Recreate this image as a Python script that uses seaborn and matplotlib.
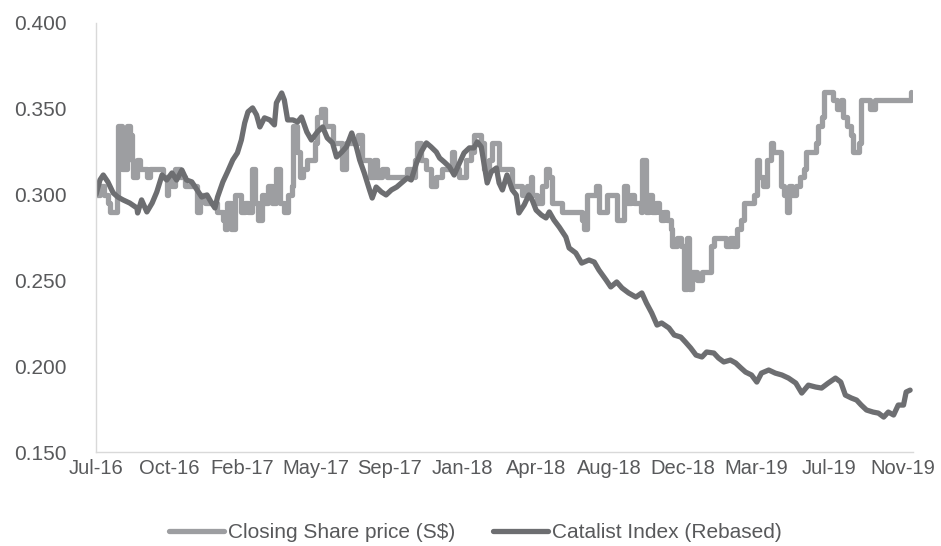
import matplotlib.pyplot as plt
import matplotlib.ticker as mticker
import numpy as np
import pandas as pd
import seaborn as sns

START = pd.Timestamp("2016-07-01")

# Closing share price (S$), days counted from START
share_days = [
    0, 6, 12, 18, 21, 29, 32, 33, 38, 39,
    44, 47, 51, 54, 56, 62, 66, 71, 77, 82,
    86, 94, 101, 107, 109, 115, 119, 127, 134, 142,
    146, 153, 157, 165, 175, 183, 187, 192, 195, 199,
    205, 210, 214, 220, 225, 230, 236, 240, 245, 251,
    255, 260, 266, 273, 278, 285, 290, 296, 298, 304,
    308, 313, 319, 326, 331, 335, 341, 346, 353, 358,
    368, 373, 379, 388, 396, 402, 409, 414, 421, 426,
    433, 441, 455, 464, 470, 477, 482, 486, 492, 500,
    507, 515, 523, 530, 538, 542, 550, 554, 560, 568,
    572, 577, 583, 587, 595, 600, 607, 610, 622, 630,
    637, 645, 652, 658, 660, 668, 675, 681, 686, 690,
    698, 705, 720, 728, 735, 738, 743, 751, 757, 761,
    769, 773, 784, 788, 794, 799, 803, 809, 814, 822,
    825, 826, 832, 837, 841, 847, 852, 855, 859, 864,
    870, 871, 879, 885, 890, 894, 897, 902, 909, 917,
    924, 930, 935, 942, 950, 954, 959, 964, 970, 976,
    980, 988, 995, 1000, 1003, 1010, 1015, 1021, 1025, 1033,
    1036, 1041, 1045, 1048, 1053, 1060, 1066, 1071, 1075, 1083,
    1089, 1093, 1098, 1101, 1113, 1116, 1121, 1127, 1131, 1136,
    1142, 1145, 1151, 1154, 1157, 1164, 1172, 1179, 1187, 1229,
    1234,
]
share_price = [
    0.300, 0.305, 0.300, 0.295, 0.290, 0.290, 0.300, 0.340, 0.340, 0.315,
    0.315, 0.340, 0.335, 0.320, 0.310, 0.320, 0.315, 0.315, 0.310, 0.315,
    0.315, 0.315, 0.310, 0.300, 0.310, 0.305, 0.315, 0.310, 0.305, 0.305,
    0.305, 0.290, 0.300, 0.295, 0.295, 0.290, 0.290, 0.285, 0.280, 0.295,
    0.280, 0.300, 0.300, 0.290, 0.295, 0.290, 0.315, 0.295, 0.285, 0.300,
    0.295, 0.305, 0.295, 0.315, 0.295, 0.290, 0.300, 0.305, 0.340, 0.325,
    0.310, 0.315, 0.320, 0.320, 0.330, 0.345, 0.350, 0.340, 0.340, 0.330,
    0.330, 0.315, 0.330, 0.330, 0.335, 0.320, 0.320, 0.310, 0.320, 0.310,
    0.315, 0.310, 0.310, 0.310, 0.315, 0.310, 0.320, 0.330, 0.320, 0.315,
    0.305, 0.310, 0.315, 0.315, 0.325, 0.315, 0.310, 0.310, 0.320, 0.325,
    0.335, 0.335, 0.330, 0.315, 0.320, 0.330, 0.330, 0.315, 0.315, 0.305,
    0.305, 0.300, 0.305, 0.310, 0.300, 0.295, 0.305, 0.315, 0.310, 0.295,
    0.295, 0.290, 0.290, 0.290, 0.285, 0.280, 0.300, 0.300, 0.305, 0.290,
    0.290, 0.300, 0.300, 0.285, 0.285, 0.305, 0.295, 0.300, 0.295, 0.295,
    0.290, 0.320, 0.290, 0.300, 0.290, 0.295, 0.290, 0.285, 0.290, 0.285,
    0.280, 0.270, 0.275, 0.270, 0.245, 0.275, 0.245, 0.255, 0.250, 0.255,
    0.255, 0.270, 0.275, 0.275, 0.275, 0.270, 0.275, 0.270, 0.280, 0.285,
    0.295, 0.295, 0.300, 0.320, 0.310, 0.305, 0.320, 0.330, 0.325, 0.325,
    0.305, 0.300, 0.290, 0.305, 0.300, 0.305, 0.310, 0.315, 0.325, 0.325,
    0.330, 0.340, 0.345, 0.360, 0.360, 0.355, 0.350, 0.355, 0.345, 0.340,
    0.335, 0.325, 0.325, 0.330, 0.355, 0.355, 0.350, 0.355, 0.355, 0.355,
    0.360,
]

# Catalist Index (rebased)
cat_days = [
    0, 6, 11, 18, 26, 33, 41, 51, 62, 63,
    69, 77, 85, 92, 100, 107, 115, 122, 130, 137,
    145, 153, 160, 168, 175, 180, 184, 192, 199, 207,
    214, 220, 225, 230, 237, 243, 248, 255, 263, 270,
    273, 281, 285, 290, 298, 305, 311, 319, 326, 335,
    343, 350, 358, 364, 372, 379, 387, 394, 399, 406,
    414, 418, 424, 432, 439, 447, 455, 464, 471, 477,
    485, 492, 500, 507, 515, 520, 527, 535, 542, 550,
    557, 565, 572, 577, 583, 587, 592, 598, 606, 610,
    615, 622, 630, 636, 640, 648, 655, 660, 666, 674,
    681, 686, 693, 701, 711, 716, 726, 735, 746, 754,
    761, 772, 779, 788, 796, 806, 817, 826, 833, 841,
    849, 856, 867, 875, 885, 892, 900, 908, 917, 924,
    935, 942, 950, 960, 968, 976, 983, 992, 1000, 1007,
    1018, 1028, 1038, 1048, 1059, 1068, 1078, 1089, 1098, 1108,
    1119, 1127, 1134, 1143, 1151, 1158, 1166, 1176, 1184, 1192,
    1199, 1207, 1214, 1222, 1226, 1232,
]
cat_index = [
    0.3000, 0.3085, 0.3114, 0.3074, 0.3010, 0.2986, 0.2969, 0.2951, 0.2922, 0.2893,
    0.2969, 0.2899, 0.2951, 0.3015, 0.3114, 0.3085, 0.3126, 0.3085, 0.3143, 0.3085,
    0.3074, 0.3027, 0.2986, 0.2998, 0.2951, 0.2922, 0.2986, 0.3074, 0.3132, 0.3202,
    0.3243, 0.3318, 0.3417, 0.3482, 0.3505, 0.3464, 0.3394, 0.3447, 0.3435, 0.3406,
    0.3534, 0.3592, 0.3551, 0.3435, 0.3435, 0.3423, 0.3452, 0.3365, 0.3318, 0.3365,
    0.3394, 0.3330, 0.3301, 0.3219, 0.3248, 0.3278, 0.3359, 0.3278, 0.3202, 0.3126,
    0.3027, 0.2980, 0.3044, 0.3015, 0.2998, 0.3027, 0.3044, 0.3074, 0.3097, 0.3085,
    0.3184, 0.3248, 0.3301, 0.3278, 0.3248, 0.3213, 0.3190, 0.3161, 0.3114, 0.3184,
    0.3243, 0.3272, 0.3272, 0.3307, 0.3278, 0.3184, 0.3068, 0.3132, 0.3155, 0.3068,
    0.3027, 0.3114, 0.3027, 0.2998, 0.2893, 0.2940, 0.2998, 0.2969, 0.2910, 0.2881,
    0.2864, 0.2899, 0.2852, 0.2811, 0.2753, 0.2689, 0.2660, 0.2601, 0.2619, 0.2607,
    0.2561, 0.2502, 0.2462, 0.2491, 0.2456, 0.2427, 0.2403, 0.2427, 0.2368, 0.2310,
    0.2240, 0.2252, 0.2223, 0.2182, 0.2170, 0.2141, 0.2106, 0.2065, 0.2054, 0.2083,
    0.2077, 0.2048, 0.2025, 0.2036, 0.2019, 0.1990, 0.1966, 0.1949, 0.1908, 0.1960,
    0.1978, 0.1960, 0.1949, 0.1931, 0.1902, 0.1844, 0.1890, 0.1879, 0.1873, 0.1902,
    0.1931, 0.1908, 0.1832, 0.1815, 0.1803, 0.1774, 0.1745, 0.1733, 0.1727, 0.1704,
    0.1733, 0.1716, 0.1774, 0.1774, 0.1850, 0.1861,
]

tick_days = [0, 111, 222, 333, 444, 555, 666, 777, 888, 999, 1110, 1221]
tick_labels = ["Jul-16", "Oct-16", "Feb-17", "May-17", "Sep-17", "Jan-18",
               "Apr-18", "Aug-18", "Dec-18", "Mar-19", "Jul-19", "Nov-19"]
y_ticks = [0.150, 0.200, 0.250, 0.300, 0.350, 0.400]

assert len(share_days) == len(share_price)
assert len(cat_days) == len(cat_index)

share = pd.DataFrame({"date": START + pd.to_timedelta(share_days, unit="D"),
                      "value": share_price})
cat = pd.DataFrame({"date": START + pd.to_timedelta(cat_days, unit="D"),
                    "value": cat_index})

LIGHT = "#9d9ea1"
DARK = "#6d6e71"
TEXT = "#58595b"
AXIS = "#d9d9d9"

sns.set_style("white")
plt.rcParams["font.family"] = ["Liberation Sans", "DejaVu Sans"]

fig = plt.figure(figsize=(9.41, 5.46), dpi=100)
ax = fig.add_axes([0.102, 0.172, 0.868, 0.786])

sns.lineplot(data=share, x="date", y="value", ax=ax, color=LIGHT,
             linewidth=3.8, drawstyle="steps-post",
             label="Closing Share price (S$)")
sns.lineplot(data=cat, x="date", y="value", ax=ax, color=DARK,
             linewidth=3.8, label="Catalist Index (Rebased)")

ax.set_xlim(START, START + pd.Timedelta(days=1236))
ax.set_ylim(0.150, 0.400)
ax.set_yticks(y_ticks)
ax.yaxis.set_major_formatter(mticker.FormatStrFormatter("%.3f"))
ax.set_xticks(START + pd.to_timedelta(tick_days, unit="D"))
ax.set_xticklabels(tick_labels)
ax.set_xlabel("")
ax.set_ylabel("")

for side in ["top", "right"]:
    ax.spines[side].set_visible(False)
for side in ["left", "bottom"]:
    ax.spines[side].set_color(AXIS)
    ax.spines[side].set_linewidth(1.0)
ax.tick_params(axis="both", colors=AXIS, width=1.0, direction="out",
               labelcolor=TEXT, labelsize=15)
ax.tick_params(axis="y", length=6, pad=15)
ax.tick_params(axis="x", length=4, pad=1, labelsize=14.5)

handles, labels = ax.get_legend_handles_labels()
ax.get_legend().remove()
fig.legend(handles, labels, loc="center", bbox_to_anchor=(0.505, 0.024),
           ncol=2, frameon=False, fontsize=15, handlelength=2.65,
           handletextpad=0.2, columnspacing=1.8, labelcolor=TEXT,
           borderaxespad=0.0, borderpad=0.0)

fig.savefig("out.png", dpi=100)
